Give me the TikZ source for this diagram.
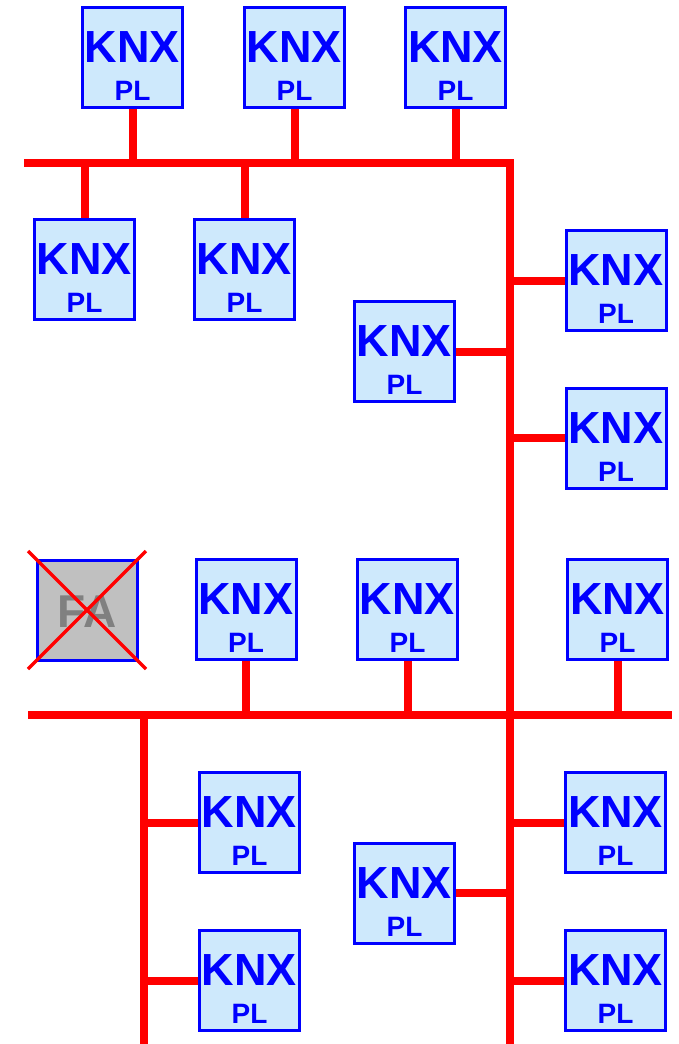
\documentclass[tikz,border=0pt]{standalone}
\usepackage{fontspec}
\setmainfont{Liberation Sans}
\usetikzlibrary{backgrounds}
\definecolor{knxfill}{RGB}{206,233,252}
\definecolor{knxblue}{RGB}{0,0,255}
\definecolor{busred}{RGB}{255,0,0}
\definecolor{fagray}{RGB}{192,192,192}
\definecolor{fatext}{RGB}{128,128,128}
\tikzset{
  device/.style={draw=knxblue, fill=knxfill, line width=3pt, minimum size=100pt, inner sep=0pt},
  fabox/.style={device, fill=fagray},
  knxlbl/.style={anchor=base, text=knxblue, font=\bfseries\fontsize{45}{45}\selectfont, inner sep=0pt},
  pllbl/.style={anchor=base, text=knxblue, font=\bfseries\fontsize{28}{28}\selectfont, inner sep=0pt},
  falbl/.style={anchor=base, text=fatext, font=\bfseries\fontsize{46}{46}\selectfont, inner sep=0pt},
  bus/.style={draw=busred, line width=8.5pt},
  stub/.style={draw=busred, line width=8pt},
  cross/.style={draw=busred, line width=3.5pt},
}
\newcommand{\knxdev}[3]{%
  \node[device] (#1) at (#2,#3) {};
  \node[knxlbl] (#1k) at ([yshift=-5pt]#1.center) {KNX};
  \node[pllbl] (#1p) at ([yshift=-43pt]#1.center) {PL};
}
\begin{document}
\begin{tikzpicture}[x=1pt,y=-1pt]
\useasboundingbox (0,0) rectangle (679,1044);
% bus coordinates
\coordinate (tbW) at (24,163);
\coordinate (tbC) at (510,163);
\coordinate (vbS) at (510,1044);
\coordinate (bbW) at (28,715);
\coordinate (bbE) at (672,715);
\coordinate (lbN) at (144,715);
\coordinate (lbS) at (144,1044);
% devices
\knxdev{t1}{132.5}{57.5}
\knxdev{t2}{294.5}{57.5}
\knxdev{t3}{455.5}{57.5}
\knxdev{u1}{84.5}{269}
\knxdev{u2}{244.5}{269}
\knxdev{r1}{616}{280.5}
\knxdev{m1}{404.5}{351.5}
\knxdev{r2}{616}{438}
\knxdev{s1}{246}{609.5}
\knxdev{s2}{407.5}{609.5}
\knxdev{s3}{617.5}{609.5}
\knxdev{l1}{249.5}{822.5}
\knxdev{l2}{249.5}{980.5}
\knxdev{m2}{404.5}{893}
\knxdev{r3}{615.5}{822.5}
\knxdev{r4}{615.5}{980.5}
% failed device
\node[fabox] (fa) at (87,610) {};
\node[falbl] (fat) at ([yshift=-17pt]fa.center) {FA};
\draw[cross] ([shift={(-59,-59)}]fa.center) -- ([shift={(59,59)}]fa.center);
\draw[cross] ([shift={(59,-59)}]fa.center) -- ([shift={(-59,59)}]fa.center);
% lines
\begin{scope}[on background layer]
  \draw[bus] (tbW) -- (tbC) -- (vbS);
  \draw[bus] (bbW) -- (bbE);
  \draw[bus] (lbN) -- (lbS);
  \foreach \d in {t1,t2,t3} \draw[stub] (\d.south) -- (\d.south |- tbC);
  \foreach \d in {u1,u2} \draw[stub] (\d.north) -- (\d.north |- tbC);
  \foreach \d in {r1,r2,r3,r4} \draw[stub] (\d.west) -- (\d.west -| tbC);
  \foreach \d in {m1,m2} \draw[stub] (\d.east) -- (\d.east -| tbC);
  \foreach \d in {s1,s2,s3} \draw[stub] (\d.south) -- (\d.south |- bbW);
  \foreach \d in {l1,l2} \draw[stub] (\d.west) -- (\d.west -| lbN);
\end{scope}
\end{tikzpicture}
\end{document}
